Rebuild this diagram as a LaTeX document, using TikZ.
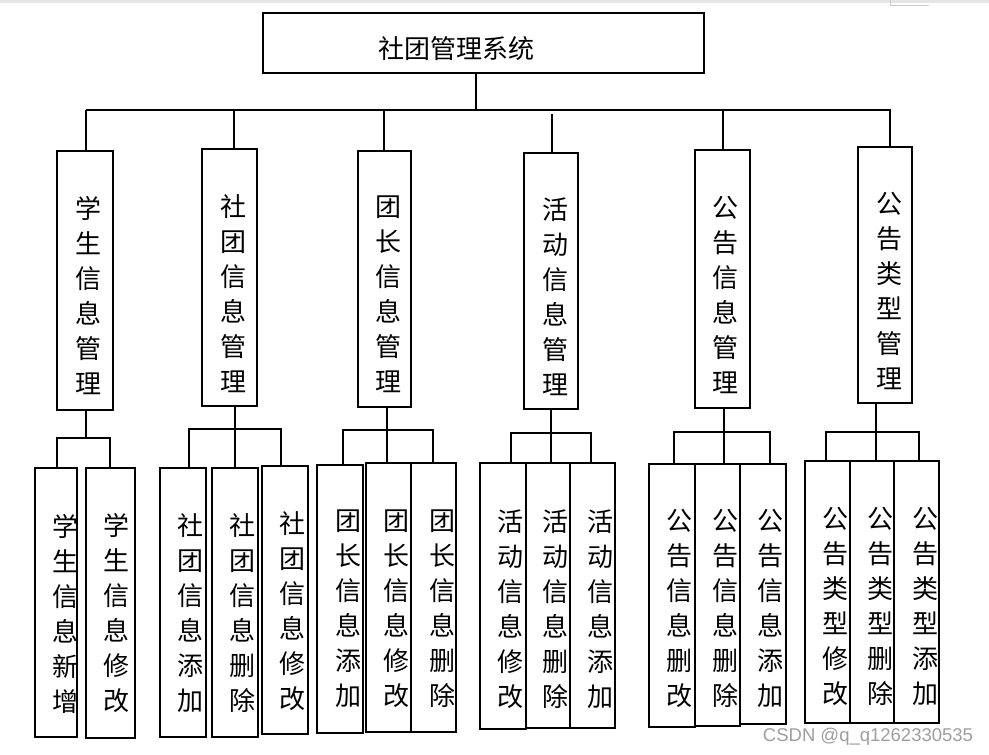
\documentclass[tikz,border=0pt]{standalone}
\usepackage{fontspec}
\newfontfamily\cjk{Noto Sans CJK SC}
\newfontfamily\wmfont{Liberation Sans}
\begin{document}
\begin{tikzpicture}[x=1pt,y=-1pt,
  boxst/.style={draw=black,line width=2.6pt,inner sep=0pt,outer sep=0pt},
  vt/.style={font=\cjk\fontsize{26}{35}\selectfont,align=center,inner sep=0pt,text=black},
  conn/.style={draw=black,line width=2pt},
  faint/.style={draw=black!22,line width=1pt}]
\useasboundingbox (0,0) rectangle (989,755);
\fill[black!10] (0,0) rectangle (989,2.5);
\coordinate (m0) at (890,0);
\coordinate (m1) at (890,5);
\coordinate (m2) at (929,5);
\draw[faint] (m0) -- (m1) -- (m2);

% top
\node[boxst,minimum width=441pt,minimum height=60pt] (top) at (483.5,43) {};
\node[font=\cjk\fontsize{26}{30}\selectfont,inner sep=0pt] (title) at (456.5,48.5) {社团管理系统};

% level 2 boxes
\node[boxst,minimum width=56pt,minimum height=259pt] (b1) at (85,280.5) {};
\node[boxst,minimum width=55pt,minimum height=257pt] (b2) at (229.5,277.5) {};
\node[boxst,minimum width=53pt,minimum height=256pt] (b3) at (384.5,279) {};
\node[boxst,minimum width=54pt,minimum height=256pt] (b4) at (551,281) {};
\node[boxst,minimum width=55pt,minimum height=258pt] (b5) at (722.5,279) {};
\node[boxst,minimum width=54pt,minimum height=256pt] (b6) at (885,275) {};

\node[vt] (t1) at (88,296) {学\\生\\信\\息\\管\\理};
\node[vt] (t2) at (233,293.5) {社\\团\\信\\息\\管\\理};
\node[vt] (t3) at (388,294.5) {团\\长\\信\\息\\管\\理};
\node[vt] (t4) at (555,296.5) {活\\动\\信\\息\\管\\理};
\node[vt] (t5) at (725,295) {公\\告\\信\\息\\管\\理};
\node[vt] (t6) at (889,291) {公\\告\\类\\型\\管\\理};

% leaves
\node[boxst,minimum width=42pt,minimum height=269pt] (l11) at (56,602.5) {};
\node[boxst,minimum width=49pt,minimum height=270pt] (l12) at (110.5,603) {};
\node[boxst,minimum width=46pt,minimum height=269pt] (l21) at (183,602.5) {};
\node[boxst,minimum width=46pt,minimum height=269pt] (l22) at (235,602.5) {};
\node[boxst,minimum width=46pt,minimum height=268pt] (l23) at (285,600) {};
\node[boxst,minimum width=46pt,minimum height=268pt] (l31) at (340,599) {};
\node[boxst,minimum width=45pt,minimum height=269pt] (l32) at (388.5,597.5) {};
\node[boxst,minimum width=45pt,minimum height=269pt] (l33) at (433.5,597.5) {};
\node[boxst,minimum width=46pt,minimum height=266pt] (l41) at (503,596) {};
\node[boxst,minimum width=44pt,minimum height=265pt] (l42) at (548,595.5) {};
\node[boxst,minimum width=45pt,minimum height=265pt] (l43) at (592.5,595.5) {};
\node[boxst,minimum width=46pt,minimum height=263pt] (l51) at (672,595.5) {};
\node[boxst,minimum width=45pt,minimum height=262pt] (l52) at (717.5,595) {};
\node[boxst,minimum width=46pt,minimum height=260pt] (l53) at (763,594) {};
\node[boxst,minimum width=45pt,minimum height=262pt] (l61) at (827.5,592) {};
\node[boxst,minimum width=44pt,minimum height=262pt] (l62) at (872,592) {};
\node[boxst,minimum width=45pt,minimum height=262pt] (l63) at (916.5,592) {};

\begin{scope}
\clip (l11.north west) rectangle (l11.south east);
\node[vt] (s11) at (65.5,613.5) {学\\生\\信\\息\\新\\增};
\end{scope}
\node[vt] (s12) at (116,613.5) {学\\生\\信\\息\\修\\改};
\node[vt] (s21) at (190,613.5) {社\\团\\信\\息\\添\\加};
\node[vt] (s22) at (242,613.5) {社\\团\\信\\息\\删\\除};
\node[vt] (s23) at (292,611.5) {社\\团\\信\\息\\修\\改};
\node[vt] (s31) at (348,609) {团\\长\\信\\息\\添\\加};
\node[vt] (s32) at (396,609) {团\\长\\信\\息\\修\\改};
\node[vt] (s33) at (442,609) {团\\长\\信\\息\\删\\除};
\node[vt] (s41) at (510,609) {活\\动\\信\\息\\修\\改};
\node[vt] (s42) at (555,609) {活\\动\\信\\息\\删\\除};
\node[vt] (s43) at (600,609) {活\\动\\信\\息\\添\\加};
\node[vt] (s51) at (679,608.5) {公\\告\\信\\息\\删\\改};
\node[vt] (s52) at (725,608.5) {公\\告\\信\\息\\删\\除};
\node[vt] (s53) at (770,608.5) {公\\告\\信\\息\\添\\加};
\node[vt] (s61) at (835,606.5) {公\\告\\类\\型\\修\\改};
\node[vt] (s62) at (880,606.5) {公\\告\\类\\型\\删\\除};
\node[vt] (s63) at (925,606.5) {公\\告\\类\\型\\添\\加};

% top connectors
\coordinate (j0) at (476,110);
\coordinate (bL) at (86,110);
\coordinate (bR) at (891,110);
\draw[conn] (top.south -| j0) -- (j0);
\draw[conn] (bL) -- (bR);
\coordinate (d1) at (86,110);
\coordinate (d2) at (234,110);
\coordinate (d3) at (384,110);
\coordinate (d4) at (552,114);
\coordinate (d5) at (723,110);
\coordinate (d6) at (890,110);
\draw[conn] (d1) -- (d1 |- b1.north);
\draw[conn] (d2) -- (d2 |- b2.north);
\draw[conn] (d3) -- (d3 |- b3.north);
\draw[conn] (d4) -- (d4 |- b4.north);
\draw[conn] (d5) -- (d5 |- b5.north);
\draw[conn] (d6) -- (d6 |- b6.north);

% group 1
\coordinate (g1) at (86,438);
\coordinate (g1a) at (57,438);
\coordinate (g1b) at (110,438);
\draw[conn] (b1.south -| g1) -- (g1);
\draw[conn] (g1a |- l11.north) -- (g1a) -- (g1b) -- (g1b |- l12.north);
% group 2
\coordinate (g2) at (235,429);
\coordinate (g2a) at (189,429);
\coordinate (g2b) at (281,429);
\draw[conn] (b2.south -| g2) -- (g2 |- l22.north);
\draw[conn] (g2a |- l21.north) -- (g2a) -- (g2b) -- (g2b |- l23.north);
% group 3
\coordinate (g3) at (387,430);
\coordinate (g3a) at (343,430);
\coordinate (g3b) at (433,430);
\draw[conn] (b3.south -| g3) -- (g3 |- l32.north);
\draw[conn] (g3a |- l31.north) -- (g3a) -- (g3b) -- (g3b |- l33.north);
% group 4
\coordinate (g4) at (551,433);
\coordinate (g4a) at (511,433);
\coordinate (g4b) at (591,433);
\draw[conn] (b4.south -| g4) -- (g4 |- l42.north);
\draw[conn] (g4a |- l41.north) -- (g4a) -- (g4b) -- (g4b |- l43.north);
% group 5
\coordinate (g5) at (724,432);
\coordinate (g5a) at (674,432);
\coordinate (g5b) at (770,432);
\draw[conn] (b5.south -| g5) -- (g5 |- l52.north);
\draw[conn] (g5a |- l51.north) -- (g5a) -- (g5b) -- (g5b |- l53.north);
% group 6
\coordinate (g6) at (876,432);
\coordinate (g6a) at (826,432);
\coordinate (g6b) at (919,432);
\draw[conn] (b6.south -| g6) -- (g6 |- l62.north);
\draw[conn] (g6a |- l61.north) -- (g6a) -- (g6b) -- (g6b |- l63.north);

% watermark
\node[font=\wmfont\fontsize{18.5}{20}\selectfont,text=black!38,inner sep=0pt] (wm) at (868,737) {CSDN @q\_q1262330535};
\end{tikzpicture}
\end{document}
